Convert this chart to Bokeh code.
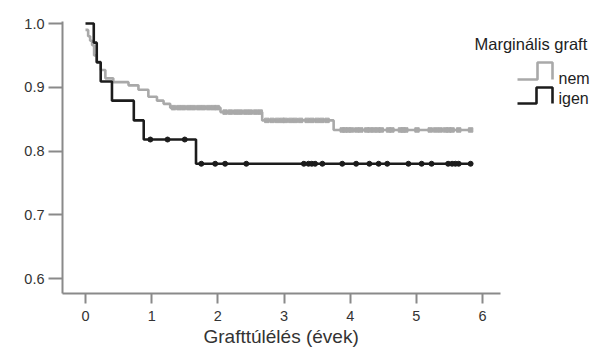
import numpy as np
from bokeh.plotting import figure
from bokeh.models import Range1d, FixedTicker, NumeralTickFormatter, Title
from bokeh.core.properties import value
from bokeh.embed import file_html
from bokeh.resources import INLINE

# ---- data ----
nem_times = [0.0, 0.04, 0.07, 0.10, 0.13, 0.17, 0.23, 0.30, 0.42, 0.65, 0.80, 0.95, 1.08, 1.18, 1.28, 2.04, 2.67, 3.75]
nem_surv = [0.990, 0.980, 0.973, 0.966, 0.950, 0.940, 0.927, 0.914, 0.908, 0.903, 0.896, 0.885, 0.879, 0.874, 0.868, 0.861, 0.848, 0.833]
nem_end = 5.85
nem_censor = [1.33, 1.41, 1.48, 1.56, 1.63, 1.71, 1.78, 1.86, 1.93, 1.99,
              2.11, 2.19, 2.27, 2.34, 2.42, 2.49, 2.57, 2.64,
              2.74, 2.82, 2.90, 2.97, 3.02, 3.10, 3.17, 3.25, 3.35, 3.42, 3.50, 3.57, 3.65,
              3.88, 3.92, 3.97, 4.02, 4.10, 4.16, 4.25, 4.30, 4.36, 4.42, 4.47, 4.58, 4.63,
              4.76, 4.80, 4.84, 5.01, 5.21, 5.29, 5.36, 5.44, 5.49, 5.54, 5.64, 5.82]

igen_times = [0.0, 0.125, 0.17, 0.23, 0.40, 0.73, 0.88, 1.67]
igen_surv = [1.0, 0.970, 0.939, 0.909, 0.879, 0.848, 0.818, 0.780]
igen_end = 5.85
igen_censor = [0.98, 1.24, 1.50, 1.75, 1.96, 2.11, 2.43, 3.30, 3.37, 3.42, 3.47, 3.58,
               3.88, 4.09, 4.29, 4.43, 4.56, 4.88, 5.08, 5.23, 5.48, 5.54, 5.59, 5.64, 5.82]

x_ticks = [0, 1, 2, 3, 4, 5, 6]
y_ticks = [0.6, 0.7, 0.8, 0.9, 1.0]
x_label = "Grafttúlélés (évek)"
legend_title = "Marginális graft"
group_labels = ["nem", "igen"]

GREY = "#a9a9a9"
BLACK = "#1c1c1c"
AXIS = "#8a8a8a"
FONT = "Liberation Sans"

# pixel -> data helpers (page px)
def X(px):
    return (px - 85.0) / 66.17

def Y(py):
    return 1.0 - (py - 23.0) / 637.5

p = figure(width=598, height=349, output_backend="svg", toolbar_location=None,
           x_range=Range1d(X(62), X(598)), y_range=Range1d(Y(293), Y(21)),
           min_border_left=62, min_border_right=0, min_border_top=21, min_border_bottom=56)
p.outline_line_color = None
p.xgrid.visible = False
p.ygrid.visible = False
p.background_fill_color = "white"
p.border_fill_color = "white"

def censor_y(times, surv, cens):
    idx = np.searchsorted(np.array(times), np.array(cens), side="right") - 1
    return list(np.array(surv)[idx])

# nem (grey)
p.step(x=nem_times + [nem_end], y=nem_surv + [nem_surv[-1]], mode="after",
       line_color=GREY, line_width=2.6)
p.scatter(x=nem_censor, y=censor_y(nem_times, nem_surv, nem_censor), marker="square",
          size=4.5, fill_color=GREY, line_color=GREY)

# igen (black)
p.step(x=igen_times + [igen_end], y=igen_surv + [igen_surv[-1]], mode="after",
       line_color=BLACK, line_width=2.6)
p.scatter(x=igen_censor, y=censor_y(igen_times, igen_surv, igen_censor), marker="circle",
          size=5, fill_color=BLACK, line_color=BLACK)

# legend
p.text(x=[X(474)], y=[Y(43)], text=[legend_title], text_font=value(FONT),
       text_font_size="16.5px", text_color="#222", text_baseline="middle", text_align="left")
p.line(x=[X(517), X(537), X(537), X(552), X(552)], y=[Y(79), Y(79), Y(62), Y(62), Y(79)],
       line_color=GREY, line_width=2.6)
p.line(x=[X(517), X(536), X(536), X(552), X(552)], y=[Y(103), Y(103), Y(87), Y(87), Y(103)],
       line_color=BLACK, line_width=2.6)
p.text(x=[X(558), X(558)], y=[Y(78), Y(98)], text=group_labels, text_font=value(FONT),
       text_font_size="16px", text_color="#222", text_baseline="middle", text_align="left")

# axes
p.xaxis.bounds = (X(62), X(500))
p.xaxis.ticker = FixedTicker(ticks=x_ticks)
p.yaxis.ticker = FixedTicker(ticks=y_ticks)
p.yaxis.formatter = NumeralTickFormatter(format="0.0")
for ax in (p.xaxis, p.yaxis):
    ax.axis_line_color = AXIS
    ax.axis_line_width = 2
    ax.major_tick_line_color = AXIS
    ax.major_tick_line_width = 2
    ax.minor_tick_line_color = None
    ax.major_tick_in = 0
    ax.major_label_text_font = FONT
    ax.major_label_text_font_size = "14.5px"
    ax.major_label_text_color = "#333"
p.xaxis.major_tick_out = 10
p.yaxis.major_tick_out = 14
p.xaxis.major_label_standoff = 7
p.yaxis.major_label_standoff = 4

# x-axis title, placed under the drawn axis line (left-aligned with a pixel offset)
p.add_layout(Title(text=x_label, align="left", offset=141, standoff=0,
                   text_font=FONT, text_font_size="19px", text_font_style="normal",
                   text_color="#333"), "below")

open("out.html", "w").write(file_html(p, INLINE))
